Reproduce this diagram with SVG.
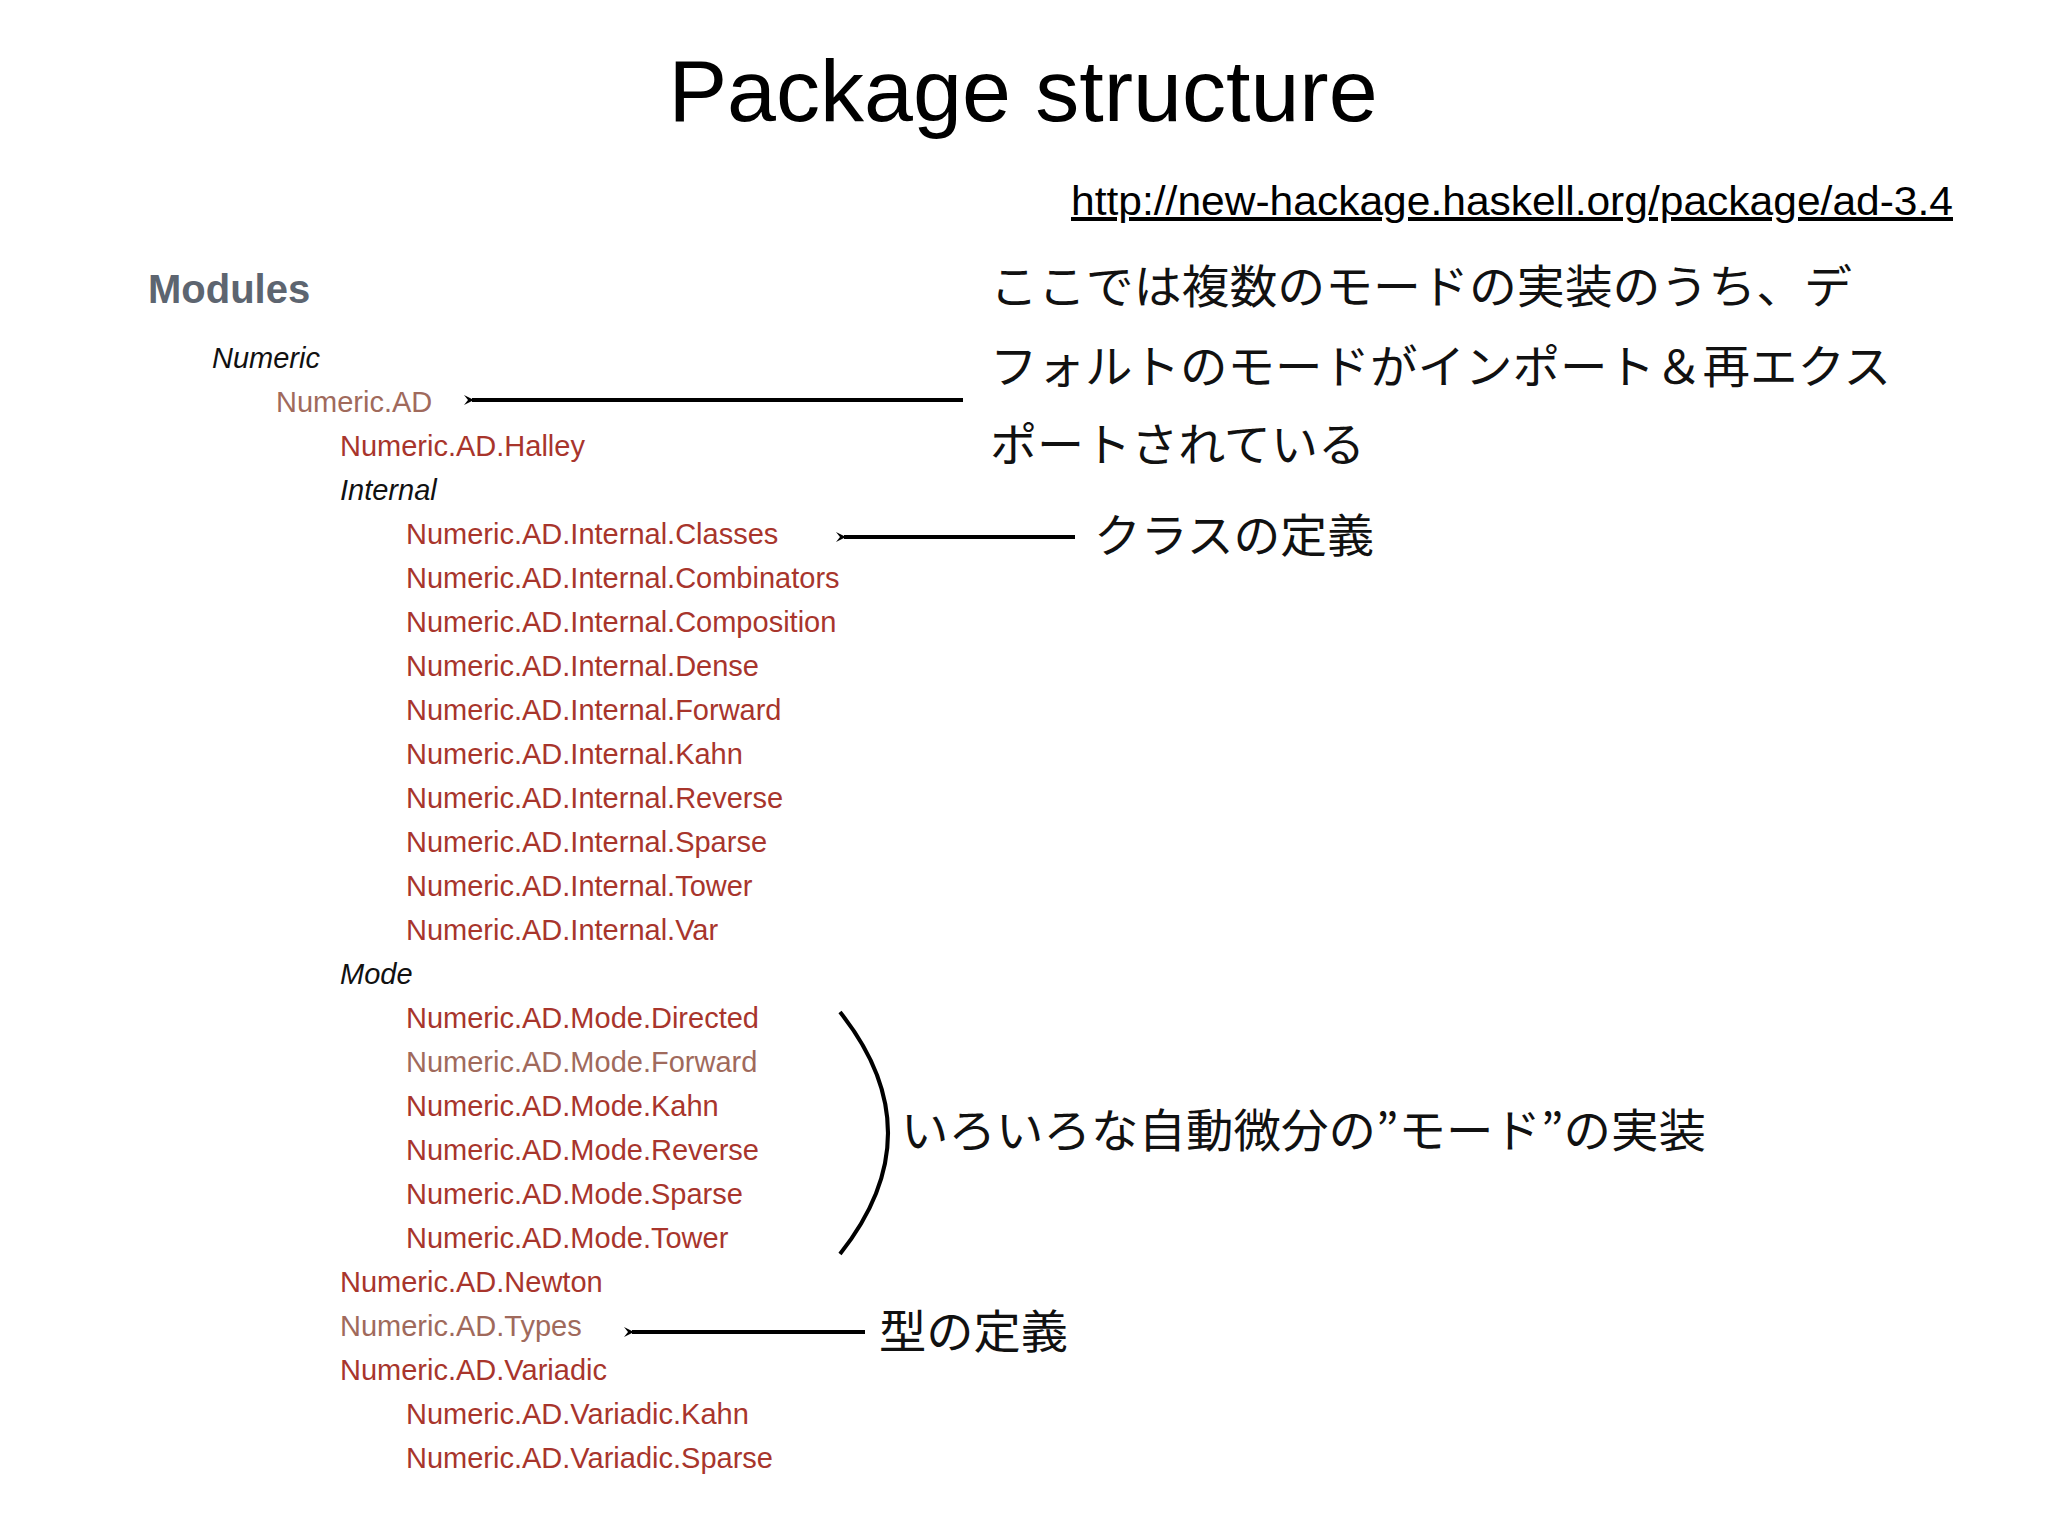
<svg xmlns="http://www.w3.org/2000/svg" width="2048" height="1536" viewBox="0 0 2048 1536">
<defs>
<marker id="ah" markerWidth="10" markerHeight="10" refX="2" refY="5" orient="auto" markerUnits="userSpaceOnUse" viewBox="0 0 10 10"><path d="M10,0 L0,5 L10,10 L6,5 Z" fill="#000"/></marker>
<style>
.m{font-family:"Liberation Sans",Arial,sans-serif;font-size:29px;fill:#a8352c}
.v{fill:#a06a5c}
.h{font-family:"Liberation Sans",Arial,sans-serif;font-size:29px;font-style:italic;fill:#111}
.j{font-family:"Noto Sans CJK JP",sans-serif;font-size:46px;fill:#111}
.c{stroke:#000;stroke-width:4;fill:none}
</style>
</defs>
<rect width="2048" height="1536" fill="#fff"/>
<text x="1023" y="121" text-anchor="middle" font-family="Liberation Sans,Arial,sans-serif" font-size="88">Package structure</text>
<text x="1071" y="215" font-family="Liberation Sans,Arial,sans-serif" font-size="40" textLength="882" lengthAdjust="spacingAndGlyphs" text-decoration="underline">http://new-hackage.haskell.org/package/ad-3.4</text>
<g id="modules">
<text x="148" y="303" font-family="Liberation Sans,Arial,sans-serif" font-size="40" font-weight="bold" fill="#5d6570">Modules</text>
<text class="h" x="212" y="368">Numeric</text>
<text class="m v" x="276" y="412">Numeric.AD</text>
<text class="m" x="340" y="456">Numeric.AD.Halley</text>
<text class="h" x="340" y="500">Internal</text>
<text class="m" x="406" y="544">Numeric.AD.Internal.Classes</text>
<text class="m" x="406" y="588">Numeric.AD.Internal.Combinators</text>
<text class="m" x="406" y="632">Numeric.AD.Internal.Composition</text>
<text class="m" x="406" y="676">Numeric.AD.Internal.Dense</text>
<text class="m" x="406" y="720">Numeric.AD.Internal.Forward</text>
<text class="m" x="406" y="764">Numeric.AD.Internal.Kahn</text>
<text class="m" x="406" y="808">Numeric.AD.Internal.Reverse</text>
<text class="m" x="406" y="852">Numeric.AD.Internal.Sparse</text>
<text class="m" x="406" y="896">Numeric.AD.Internal.Tower</text>
<text class="m" x="406" y="940">Numeric.AD.Internal.Var</text>
<text class="h" x="340" y="984">Mode</text>
<text class="m" x="406" y="1028">Numeric.AD.Mode.Directed</text>
<text class="m v" x="406" y="1072">Numeric.AD.Mode.Forward</text>
<text class="m" x="406" y="1116">Numeric.AD.Mode.Kahn</text>
<text class="m" x="406" y="1160">Numeric.AD.Mode.Reverse</text>
<text class="m" x="406" y="1204">Numeric.AD.Mode.Sparse</text>
<text class="m" x="406" y="1248">Numeric.AD.Mode.Tower</text>
<text class="m" x="340" y="1292">Numeric.AD.Newton</text>
<text class="m v" x="340" y="1336">Numeric.AD.Types</text>
<text class="m" x="340" y="1380">Numeric.AD.Variadic</text>
<text class="m" x="406" y="1424">Numeric.AD.Variadic.Kahn</text>
<text class="m" x="406" y="1468">Numeric.AD.Variadic.Sparse</text>
</g>
<g id="notes">
<text class="j" x="990" y="303" textLength="862" lengthAdjust="spacingAndGlyphs">ここでは複数のモードの実装のうち、デ</text>
<text class="j" x="990" y="383" textLength="901" lengthAdjust="spacingAndGlyphs">フォルトのモードがインポート＆再エクス</text>
<text class="j" x="990" y="461" textLength="375" lengthAdjust="spacingAndGlyphs">ポートされている</text>
<text class="j" x="1094" y="552" textLength="280" lengthAdjust="spacingAndGlyphs">クラスの定義</text>
<text class="j" x="901" y="1147" textLength="805" lengthAdjust="spacingAndGlyphs">いろいろな自動微分の”モード”の実装</text>
<text class="j" x="879" y="1348" textLength="189" lengthAdjust="spacingAndGlyphs">型の定義</text>
</g>
<g id="connectors">
<line class="c" x1="963" y1="400" x2="472" y2="400" marker-end="url(#ah)"/>
<line class="c" x1="1075" y1="537" x2="844" y2="537" marker-end="url(#ah)"/>
<line class="c" x1="865" y1="1332" x2="632" y2="1332" marker-end="url(#ah)"/>
<path class="c" d="M840,1012 Q936,1133 840,1254"/>
</g>
</svg>
